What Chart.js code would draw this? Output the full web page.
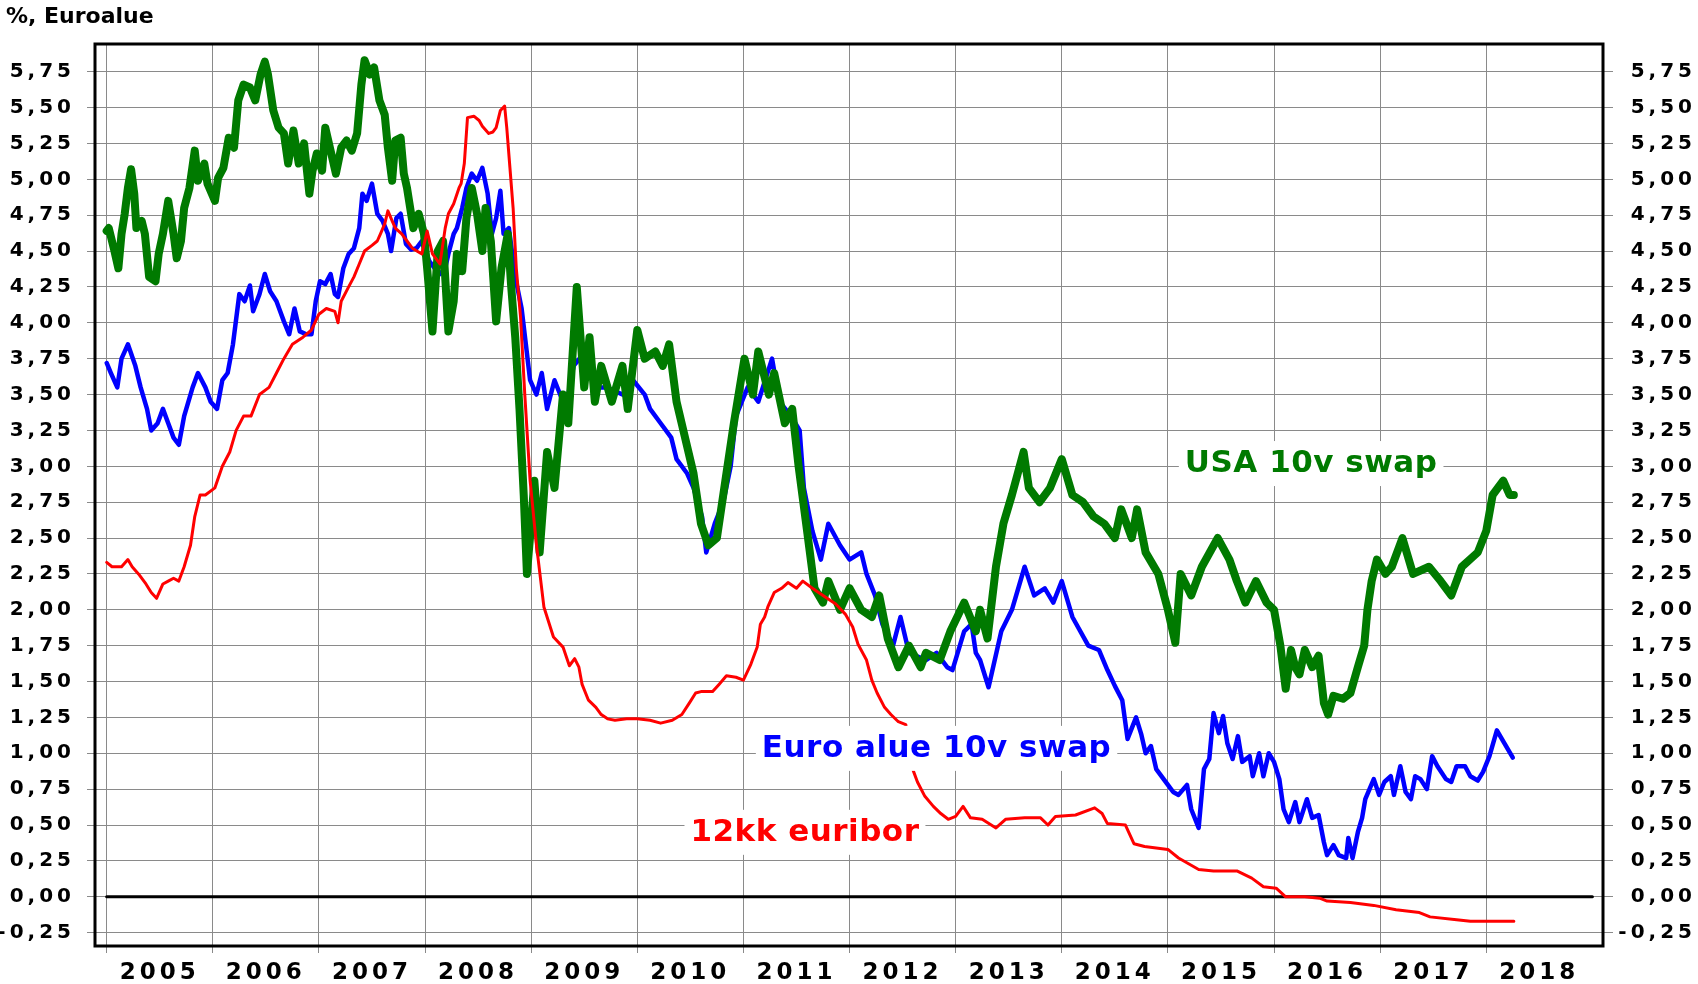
<!DOCTYPE html>
<html lang="fi">
<head>
  <meta charset="UTF-8" />
  <title>Korot, Euroalue</title>
  <script src="https://cdn.jsdelivr.net/npm/chart.js"></script>
  <style>
    html, body { margin: 0; padding: 0; background: #ffffff; }
    canvas { display: block; }
  </style>
</head>
<body>
  <canvas id="rates" width="1698" height="984"></canvas>

  <script>
    // --- data (decimal years, %) ---
    const yearLabels = ['2005', '2006', '2007', '2008', '2009', '2010', '2011',
                        '2012', '2013', '2014', '2015', '2016', '2017', '2018'];
    const yTicks = [-0.25, 0, 0.25, 0.5, 0.75, 1, 1.25, 1.5, 1.75, 2, 2.25, 2.5, 2.75,
                    3, 3.25, 3.5, 3.75, 4, 4.25, 4.5, 4.75, 5, 5.25, 5.5, 5.75];

    const usaYears = [2005.00, 2005.02, 2005.07, 2005.11, 2005.14, 2005.17, 2005.20, 2005.23, 2005.26, 2005.28,
      2005.33, 2005.36, 2005.40, 2005.46, 2005.49, 2005.53, 2005.58, 2005.63, 2005.66, 2005.70,
      2005.73, 2005.78, 2005.83, 2005.86, 2005.92, 2005.95, 2006.02, 2006.05, 2006.10, 2006.15,
      2006.20, 2006.24, 2006.29, 2006.35, 2006.40, 2006.45, 2006.49, 2006.52, 2006.57, 2006.62,
      2006.67, 2006.71, 2006.76, 2006.81, 2006.86, 2006.91, 2006.94, 2006.98, 2007.03, 2007.06,
      2007.11, 2007.16, 2007.21, 2007.26, 2007.31, 2007.36, 2007.40, 2007.43, 2007.48, 2007.52,
      2007.57, 2007.62, 2007.65, 2007.69, 2007.72, 2007.77, 2007.80, 2007.83, 2007.89, 2007.94,
      2007.99, 2008.02, 2008.07, 2008.12, 2008.17, 2008.22, 2008.27, 2008.30, 2008.35, 2008.39,
      2008.44, 2008.49, 2008.54, 2008.57, 2008.62, 2008.67, 2008.72, 2008.78, 2008.81, 2008.85,
      2008.89, 2008.93, 2008.96, 2009.00, 2009.03, 2009.08, 2009.15, 2009.22, 2009.30, 2009.35,
      2009.43, 2009.50, 2009.55, 2009.60, 2009.66, 2009.76, 2009.86, 2009.91, 2010.00, 2010.07,
      2010.17, 2010.24, 2010.30, 2010.37, 2010.45, 2010.53, 2010.60, 2010.67, 2010.75, 2010.83,
      2010.91, 2011.01, 2011.09, 2011.14, 2011.24, 2011.29, 2011.39, 2011.46, 2011.52, 2011.60,
      2011.67, 2011.75, 2011.80, 2011.91, 2012.00, 2012.11, 2012.21, 2012.28, 2012.36, 2012.46,
      2012.56, 2012.67, 2012.72, 2012.85, 2012.95, 2013.08, 2013.19, 2013.23, 2013.30, 2013.38,
      2013.45, 2013.53, 2013.64, 2013.69, 2013.79, 2013.89, 2014.00, 2014.10, 2014.20, 2014.30,
      2014.40, 2014.50, 2014.56, 2014.66, 2014.71, 2014.79, 2014.91, 2015.00, 2015.07, 2015.12,
      2015.22, 2015.32, 2015.47, 2015.58, 2015.65, 2015.73, 2015.83, 2015.93, 2016.00, 2016.06,
      2016.11, 2016.16, 2016.20, 2016.24, 2016.29, 2016.36, 2016.42, 2016.47, 2016.51, 2016.56,
      2016.65, 2016.72, 2016.79, 2016.85, 2016.88, 2016.92, 2016.97, 2017.05, 2017.11, 2017.21,
      2017.31, 2017.46, 2017.57, 2017.67, 2017.77, 2017.92, 2018.00, 2018.06, 2018.16, 2018.22, 2018.26];
    const usaRates = [4.64, 4.66, 4.51, 4.38, 4.62, 4.76, 4.94, 5.07, 4.90, 4.66,
      4.71, 4.62, 4.32, 4.29, 4.48, 4.62, 4.85, 4.62, 4.45, 4.57,
      4.80, 4.94, 5.20, 4.99, 5.11, 4.97, 4.85, 5.01, 5.08, 5.29,
      5.22, 5.55, 5.66, 5.64, 5.55, 5.73, 5.82, 5.73, 5.48, 5.36,
      5.32, 5.11, 5.34, 5.11, 5.25, 4.90, 5.06, 5.18, 5.06, 5.36,
      5.20, 5.04, 5.22, 5.27, 5.20, 5.32, 5.66, 5.83, 5.73, 5.78,
      5.55, 5.45, 5.22, 4.99, 5.27, 5.29, 5.04, 4.94, 4.66, 4.76,
      4.62, 4.38, 3.94, 4.50, 4.57, 3.94, 4.15, 4.48, 4.36, 4.73,
      4.94, 4.76, 4.50, 4.80, 4.57, 4.01, 4.38, 4.62, 4.27, 3.90,
      3.40, 2.80, 2.25, 2.60, 2.90, 2.40, 3.10, 2.85, 3.50, 3.30,
      4.25, 3.55, 3.90, 3.45, 3.70, 3.45, 3.70, 3.40, 3.95, 3.75,
      3.80, 3.70, 3.85, 3.45, 3.20, 2.95, 2.60, 2.45, 2.50, 2.90,
      3.30, 3.75, 3.50, 3.80, 3.50, 3.65, 3.30, 3.40, 3.00, 2.55,
      2.15, 2.05, 2.20, 2.00, 2.15, 2.00, 1.95, 2.10, 1.80, 1.60,
      1.75, 1.60, 1.70, 1.65, 1.85, 2.05, 1.85, 2.00, 1.80, 2.30,
      2.60, 2.80, 3.10, 2.85, 2.75, 2.85, 3.05, 2.80, 2.75, 2.65,
      2.60, 2.50, 2.70, 2.50, 2.70, 2.40, 2.25, 2.00, 1.77, 2.25,
      2.10, 2.30, 2.50, 2.35, 2.20, 2.05, 2.20, 2.05, 2.00, 1.75,
      1.45, 1.72, 1.60, 1.55, 1.72, 1.60, 1.68, 1.35, 1.27, 1.40,
      1.38, 1.42, 1.60, 1.75, 2.00, 2.20, 2.35, 2.25, 2.30, 2.50,
      2.25, 2.30, 2.20, 2.10, 2.30, 2.40, 2.55, 2.80, 2.90, 2.80, 2.80];

    const euroYears = [2005.00, 2005.04, 2005.10, 2005.14, 2005.20, 2005.27, 2005.32, 2005.38, 2005.42, 2005.48,
      2005.53, 2005.58, 2005.63, 2005.68, 2005.73, 2005.81, 2005.86, 2005.93, 2005.98, 2006.04,
      2006.09, 2006.14, 2006.19, 2006.25, 2006.30, 2006.35, 2006.38, 2006.44, 2006.49, 2006.54,
      2006.60, 2006.67, 2006.72, 2006.77, 2006.82, 2006.88, 2006.93, 2006.97, 2007.01, 2007.06,
      2007.11, 2007.15, 2007.18, 2007.23, 2007.28, 2007.33, 2007.38, 2007.41, 2007.45, 2007.50,
      2007.55, 2007.60, 2007.65, 2007.68, 2007.73, 2007.77, 2007.82, 2007.87, 2007.92, 2007.97,
      2008.04, 2008.09, 2008.14, 2008.19, 2008.22, 2008.27, 2008.30, 2008.35, 2008.39, 2008.44,
      2008.49, 2008.54, 2008.59, 2008.63, 2008.67, 2008.71, 2008.74, 2008.79, 2008.85, 2008.91,
      2008.95, 2008.99, 2009.05, 2009.10, 2009.15, 2009.22, 2009.30, 2009.35, 2009.40, 2009.51,
      2009.61, 2009.71, 2009.86, 2009.96, 2010.07, 2010.12, 2010.22, 2010.32, 2010.37, 2010.47,
      2010.53, 2010.61, 2010.65, 2010.73, 2010.81, 2010.88, 2010.93, 2011.04, 2011.14, 2011.27,
      2011.34, 2011.45, 2011.53, 2011.57, 2011.65, 2011.73, 2011.80, 2011.91, 2012.00, 2012.11,
      2012.16, 2012.24, 2012.31, 2012.41, 2012.48, 2012.56, 2012.72, 2012.82, 2012.92, 2012.97,
      2013.08, 2013.15, 2013.19, 2013.23, 2013.31, 2013.43, 2013.53, 2013.65, 2013.74, 2013.84,
      2013.92, 2014.00, 2014.10, 2014.25, 2014.35, 2014.43, 2014.50, 2014.57, 2014.62, 2014.70,
      2014.75, 2014.79, 2014.84, 2014.89, 2015.00, 2015.05, 2015.10, 2015.18, 2015.22, 2015.29,
      2015.34, 2015.39, 2015.43, 2015.48, 2015.52, 2015.56, 2015.61, 2015.66, 2015.70, 2015.77,
      2015.80, 2015.86, 2015.90, 2015.95, 2016.00, 2016.05, 2016.09, 2016.14, 2016.20, 2016.24,
      2016.31, 2016.36, 2016.42, 2016.47, 2016.50, 2016.56, 2016.61, 2016.68, 2016.70, 2016.74,
      2016.79, 2016.83, 2016.86, 2016.94, 2016.99, 2017.04, 2017.10, 2017.13, 2017.19, 2017.24,
      2017.29, 2017.33, 2017.38, 2017.44, 2017.49, 2017.54, 2017.62, 2017.67, 2017.72, 2017.80,
      2017.85, 2017.92, 2017.97, 2018.03, 2018.10, 2018.17, 2018.25];
    const euroRates = [3.72, 3.65, 3.55, 3.75, 3.85, 3.70, 3.55, 3.40, 3.25, 3.30,
      3.40, 3.30, 3.20, 3.15, 3.35, 3.55, 3.65, 3.55, 3.45, 3.40,
      3.60, 3.65, 3.85, 4.20, 4.15, 4.26, 4.08, 4.20, 4.34, 4.22,
      4.15, 4.01, 3.92, 4.10, 3.94, 3.92, 3.92, 4.15, 4.29, 4.27,
      4.34, 4.20, 4.18, 4.38, 4.48, 4.52, 4.66, 4.90, 4.85, 4.97,
      4.76, 4.71, 4.62, 4.50, 4.73, 4.76, 4.55, 4.51, 4.52, 4.57,
      4.43, 4.38, 4.34, 4.38, 4.48, 4.62, 4.66, 4.80, 4.94, 5.04,
      4.99, 5.08, 4.90, 4.62, 4.73, 4.92, 4.62, 4.66, 4.32, 4.10,
      3.85, 3.60, 3.50, 3.65, 3.40, 3.60, 3.45, 3.50, 3.70, 3.80,
      3.55, 3.55, 3.50, 3.60, 3.50, 3.40, 3.30, 3.20, 3.05, 2.95,
      2.85, 2.65, 2.40, 2.60, 2.75, 3.00, 3.35, 3.55, 3.45, 3.75,
      3.45, 3.35, 3.25, 2.85, 2.55, 2.35, 2.60, 2.45, 2.35, 2.40,
      2.25, 2.10, 1.90, 1.75, 1.95, 1.70, 1.65, 1.70, 1.60, 1.58,
      1.85, 1.90, 1.70, 1.65, 1.46, 1.85, 2.00, 2.30, 2.10, 2.15,
      2.05, 2.20, 1.95, 1.75, 1.72, 1.58, 1.47, 1.37, 1.10, 1.25,
      1.13, 1.00, 1.05, 0.89, 0.78, 0.73, 0.71, 0.78, 0.61, 0.48,
      0.89, 0.96, 1.28, 1.14, 1.26, 1.07, 0.96, 1.12, 0.94, 0.98,
      0.84, 1.00, 0.84, 1.00, 0.94, 0.82, 0.61, 0.52, 0.66, 0.52,
      0.68, 0.55, 0.57, 0.38, 0.29, 0.36, 0.29, 0.27, 0.41, 0.27,
      0.45, 0.55, 0.68, 0.82, 0.71, 0.80, 0.84, 0.71, 0.91, 0.73,
      0.68, 0.84, 0.82, 0.75, 0.98, 0.91, 0.82, 0.80, 0.91, 0.91,
      0.84, 0.81, 0.87, 0.98, 1.16, 1.07, 0.97];

    const euriborYears = [2005.00, 2005.05, 2005.14, 2005.20, 2005.24, 2005.30, 2005.37, 2005.42, 2005.47, 2005.53,
      2005.58, 2005.63, 2005.68, 2005.73, 2005.79, 2005.83, 2005.88, 2005.93, 2006.02, 2006.09,
      2006.16, 2006.22, 2006.29, 2006.36, 2006.44, 2006.53, 2006.60, 2006.67, 2006.75, 2006.85,
      2006.93, 2007.00, 2007.07, 2007.15, 2007.18, 2007.21, 2007.28, 2007.33, 2007.38, 2007.43,
      2007.50, 2007.55, 2007.58, 2007.62, 2007.65, 2007.69, 2007.72, 2007.78, 2007.83, 2007.88,
      2007.97, 2008.02, 2008.07, 2008.14, 2008.19, 2008.22, 2008.27, 2008.32, 2008.34, 2008.37,
      2008.40, 2008.46, 2008.51, 2008.54, 2008.60, 2008.64, 2008.67, 2008.71, 2008.75, 2008.77,
      2008.80, 2008.83, 2008.86, 2008.90, 2008.94, 2008.99, 2009.05, 2009.12, 2009.21, 2009.30,
      2009.36, 2009.41, 2009.45, 2009.48, 2009.54, 2009.61, 2009.66, 2009.72, 2009.79, 2009.90,
      2010.00, 2010.12, 2010.22, 2010.33, 2010.42, 2010.49, 2010.55, 2010.60, 2010.71, 2010.77,
      2010.84, 2010.93, 2011.00, 2011.07, 2011.13, 2011.16, 2011.20, 2011.23, 2011.29, 2011.36,
      2011.42, 2011.50, 2011.56, 2011.65, 2011.75, 2011.87, 2011.96, 2012.03, 2012.08, 2012.16,
      2012.21, 2012.26, 2012.33, 2012.39, 2012.46, 2012.53, 2012.56, 2012.59, 2012.64, 2012.71,
      2012.79, 2012.86, 2012.93, 2013.00, 2013.07, 2013.14, 2013.25, 2013.38, 2013.47, 2013.65,
      2013.80, 2013.87, 2013.94, 2014.13, 2014.31, 2014.38, 2014.43, 2014.60, 2014.68, 2014.78,
      2015.00, 2015.10, 2015.29, 2015.43, 2015.65, 2015.79, 2015.90, 2016.02, 2016.11, 2016.29,
      2016.43, 2016.50, 2016.72, 2016.94, 2017.15, 2017.37, 2017.47, 2017.72, 2017.85, 2018.00, 2018.26];
    const euriborRates = [2.33, 2.30, 2.30, 2.35, 2.30, 2.25, 2.18, 2.12, 2.08, 2.18,
      2.20, 2.22, 2.20, 2.30, 2.45, 2.65, 2.80, 2.80, 2.85, 3.00,
      3.10, 3.25, 3.35, 3.35, 3.50, 3.55, 3.65, 3.75, 3.85, 3.90,
      3.95, 4.06, 4.10, 4.08, 4.00, 4.15, 4.25, 4.32, 4.41, 4.50,
      4.54, 4.57, 4.62, 4.69, 4.78, 4.71, 4.66, 4.62, 4.57, 4.52,
      4.48, 4.64, 4.48, 4.41, 4.66, 4.76, 4.83, 4.94, 4.97, 5.11,
      5.43, 5.44, 5.41, 5.37, 5.32, 5.33, 5.36, 5.48, 5.51, 5.36,
      5.08, 4.80, 4.38, 4.04, 3.50, 2.90, 2.45, 2.02, 1.81, 1.74,
      1.61, 1.66, 1.60, 1.48, 1.37, 1.32, 1.27, 1.24, 1.23, 1.24,
      1.24, 1.23, 1.21, 1.23, 1.27, 1.35, 1.42, 1.43, 1.43, 1.48,
      1.54, 1.53, 1.51, 1.62, 1.74, 1.90, 1.95, 2.02, 2.12, 2.15,
      2.19, 2.15, 2.20, 2.15, 2.10, 2.04, 1.97, 1.88, 1.76, 1.65,
      1.51, 1.42, 1.32, 1.27, 1.22, 1.20, 1.05, 0.90, 0.80, 0.70,
      0.63, 0.58, 0.54, 0.56, 0.63, 0.55, 0.54, 0.48, 0.54, 0.55,
      0.55, 0.50, 0.56, 0.57, 0.62, 0.58, 0.51, 0.50, 0.37, 0.35,
      0.33, 0.27, 0.19, 0.18, 0.18, 0.13, 0.07, 0.06, 0.00, 0.00,
      -0.01, -0.03, -0.04, -0.06, -0.09, -0.11, -0.14, -0.16, -0.17, -0.17, -0.17];

    const zeroYears = [2005, 2019];
    const zeroRates = [0, 0];

    // text labels, anchored in data units (centre x, baseline y)
    const seriesLabels = [
      { text: 'USA 10v swap', color: '#007a00', year: 2016.35, value: 2.96 },
      { text: 'Euro alue 10v swap', color: '#0000ff', year: 2012.82, value: 0.975 },
      { text: '12kk euribor', color: '#ff0000', year: 2011.58, value: 0.39 }
    ];

    const FONT = "'DejaVu Sans', 'Liberation Sans', sans-serif";
    const GRID = '#8a8a8a';

    function zip(xs, ys) {
      return xs.map((x, i) => ({ x: x, y: ys[i] }));
    }

    function fmt(v) {
      return v.toFixed(2).replace('.', ',');
    }

    const chartDecor = {
      id: 'chartDecor',
      beforeDraw(chart) {
        chart.ctx.letterSpacing = '4px';
      },
      beforeDatasetsDraw(chart) {
        chart.ctx.letterSpacing = '0px';
      },
      afterDatasetsDraw(chart) {
        const ctx = chart.ctx;
        const a = chart.chartArea;
        const xs = chart.scales.x;
        const ys = chart.scales.y;
        ctx.save();
        ctx.letterSpacing = '0.5px';
        ctx.font = 'bold 31px ' + FONT;
        ctx.textAlign = 'center';
        ctx.textBaseline = 'alphabetic';
        seriesLabels.forEach(l => {
          const cx = xs.getPixelForValue(l.year);
          const by = ys.getPixelForValue(l.value);
          const w = ctx.measureText(l.text).width;
          ctx.fillStyle = '#ffffff';
          ctx.fillRect(cx - w / 2 - 6, by - 31, w + 12, 45);
          ctx.fillStyle = l.color;
          ctx.fillText(l.text, cx, by);
        });
        ctx.restore();

        // frame round the plot
        ctx.save();
        ctx.strokeStyle = '#000000';
        ctx.lineWidth = 3;
        ctx.strokeRect(a.left, a.top, a.right - a.left, a.bottom - a.top);
        ctx.restore();

        // title
        ctx.save();
        ctx.letterSpacing = '0px';
        ctx.font = 'bold 22px ' + FONT;
        ctx.fillStyle = '#000000';
        ctx.textAlign = 'left';
        ctx.textBaseline = 'alphabetic';
        ctx.fillText('%, Euroalue', 6, 23);
        ctx.restore();
      }
    };

    const yAxisBase = {
      type: 'linear',
      min: -0.343,
      max: 5.943,
      afterBuildTicks: s => { s.ticks = yTicks.map(v => ({ value: v })); },
      border: { display: false },
      ticks: {
        color: '#000000',
        font: { family: FONT, size: 20, weight: 'bold' },
        callback: v => fmt(v)
      }
    };

    new Chart(document.getElementById('rates'), {
      type: 'line',
      data: {
        datasets: [
          { label: '12kk euribor', data: zip(euriborYears, euriborRates), borderColor: '#ff0000', borderWidth: 3, order: 0 },
          { label: 'USA 10v swap', data: zip(usaYears, usaRates), borderColor: '#007a00', borderWidth: 8, order: 1 },
          { label: 'Euro alue 10v swap', data: zip(euroYears, euroRates), borderColor: '#0000ff', borderWidth: 4.5, order: 2 },
          { label: 'nolla', data: zip(zeroYears, zeroRates), borderColor: '#000000', borderWidth: 3, order: 3 }
        ]
      },
      options: {
        responsive: false,
        animation: false,
        devicePixelRatio: 1,
        elements: {
          point: { radius: 0 },
          line: { tension: 0, borderJoinStyle: 'round', borderCapStyle: 'round', fill: false }
        },
        plugins: {
          legend: { display: false },
          tooltip: { enabled: false }
        },
        layout: { padding: { top: 44, left: 0, right: 2, bottom: 0 } },
        scales: {
          x: {
            type: 'linear',
            min: 2004.89,
            max: 2019.1,
            afterFit: s => { s.height = 38; },
            afterBuildTicks: s => {
              s.ticks = yearLabels.flatMap((y, i) => [{ value: 2005 + i }, { value: 2005.5 + i }]);
            },
            border: { display: false },
            grid: {
              color: c => (c.tick && c.tick.value % 1 === 0) ? GRID : 'rgba(0,0,0,0)',
              tickColor: c => (c.tick && c.tick.value % 1 === 0) ? GRID : 'rgba(0,0,0,0)',
              tickLength: 7,
              lineWidth: 1
            },
            ticks: {
              autoSkip: false,
              maxRotation: 0,
              padding: 6,
              color: '#000000',
              font: { family: FONT, size: 23, weight: 'bold' },
              callback: v => (v % 1 === 0.5) ? yearLabels[Math.floor(v) - 2005] : ''
            }
          },
          y: Object.assign({}, yAxisBase, {
            position: 'left',
            afterFit: s => { s.width = 95; },
            grid: { color: GRID, tickColor: GRID, tickLength: 8, lineWidth: 1 },
            ticks: Object.assign({}, yAxisBase.ticks, { padding: 12 })
          }),
          y2: Object.assign({}, yAxisBase, {
            position: 'right',
            afterFit: s => { s.width = 93; },
            grid: { drawOnChartArea: false, color: GRID, tickColor: GRID, tickLength: 10, lineWidth: 1 },
            ticks: Object.assign({}, yAxisBase.ticks, { padding: 12, crossAlign: 'far' })
          })
        }
      },
      plugins: [chartDecor]
    });
  </script>
</body>
</html>
